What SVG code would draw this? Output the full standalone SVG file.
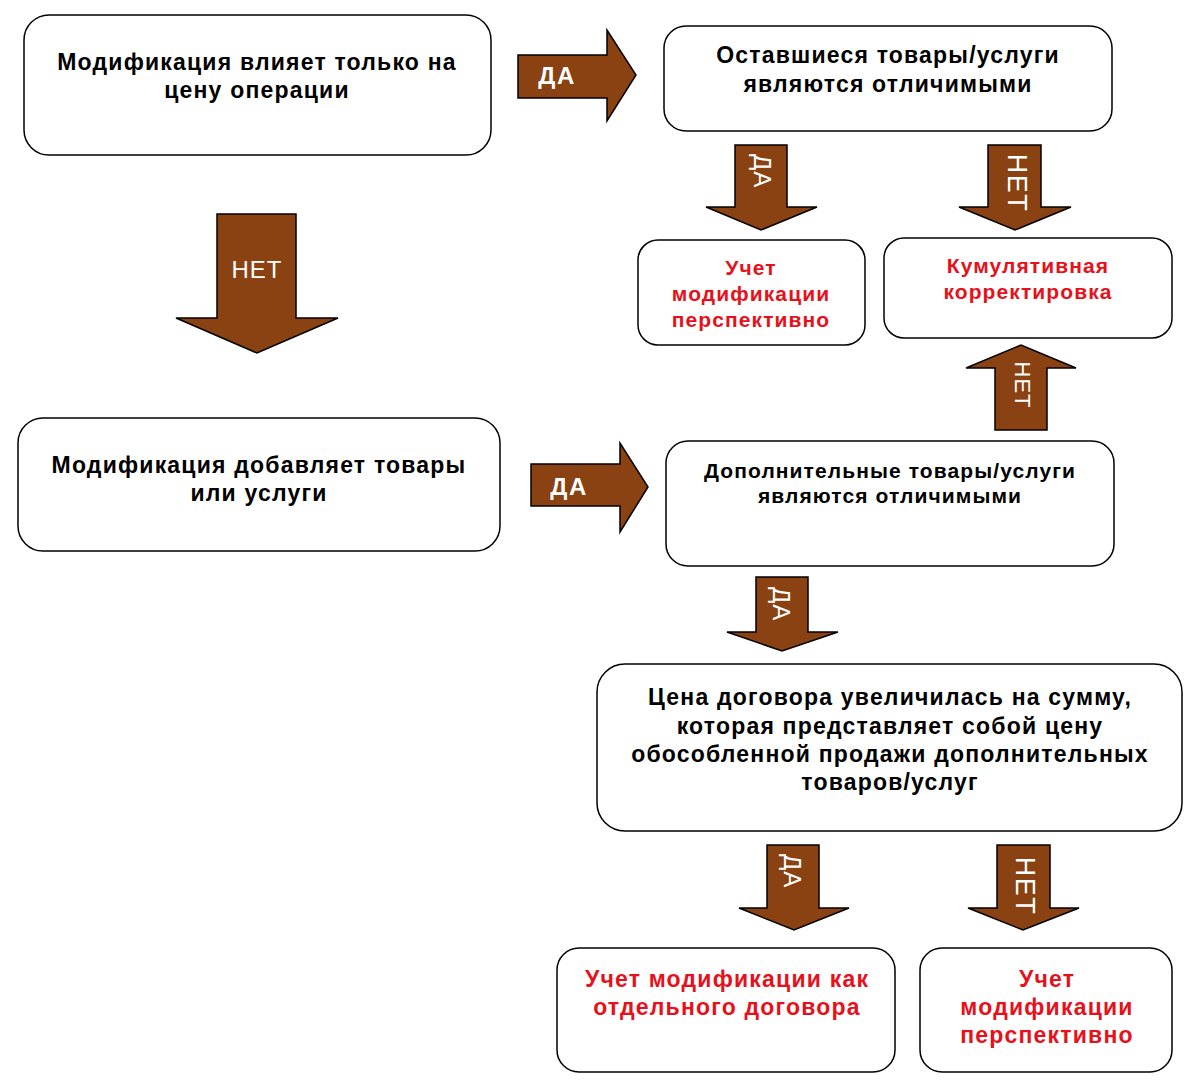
<svg xmlns="http://www.w3.org/2000/svg" width="1200" height="1092" viewBox="0 0 1200 1092">
<style>
.box{fill:#fff;stroke:#000;stroke-width:1.5}
.t{font-family:"Liberation Sans",Arial,sans-serif;font-weight:bold;font-size:23px;letter-spacing:1.2px;text-anchor:middle;fill:#000}
.s{font-size:21px;letter-spacing:1.1px}
.r{fill:#e8101a}
.arr{fill:#8a4213;stroke:#000;stroke-width:1.5}
.al{font-family:"Liberation Sans",Arial,sans-serif;font-size:24px;letter-spacing:1px;fill:#fff;text-anchor:middle;dominant-baseline:central}
.b{font-weight:bold;letter-spacing:1.5px}
.v{font-size:27px;letter-spacing:1.5px}
</style>
<rect width="1200" height="1092" fill="#fff"/>
<g id="connectors">
<polygon class="arr" points="518,55 607,55 607,30 636,75 607,121 607,98 518,98"/>
<text class="al b" x="557" y="75">ДА</text>
<polygon class="arr" points="735,145 787,145 787,207 817,207 761,230 706,207 735,207"/>
<text class="al" transform="translate(762,171) rotate(90)">ДА</text>
<polygon class="arr" points="988,145 1041,145 1041,207 1071,207 1015,230 959,207 988,207"/>
<text class="al v" transform="translate(1017,183) rotate(90)">НЕТ</text>
<polygon class="arr" points="217,214 296,214 296,318 338,318 257,353 176,318 217,318"/>
<text class="al" x="257" y="269">НЕТ</text>
<polygon class="arr" points="995,430 1047,430 1047,368 1076,368 1021,345 966,368 995,368"/>
<text class="al" style="font-size:22px" transform="translate(1022,385) rotate(90)">НЕТ</text>
<polygon class="arr" points="531,464 620,464 620,443 648,487 620,532 620,506 531,506"/>
<text class="al b" x="569" y="486">ДА</text>
<polygon class="arr" points="756,577 808,577 808,632 838,632 782,651 727,632 756,632"/>
<text class="al" transform="translate(781,604) rotate(90)">ДА</text>
<polygon class="arr" points="767,845 819,845 819,908 849,908 794,930 739,908 767,908"/>
<text class="al" transform="translate(792,871) rotate(90)">ДА</text>
<polygon class="arr" points="997,845 1050,845 1050,908 1079,908 1023,930 968,908 997,908"/>
<text class="al v" transform="translate(1025,886) rotate(90)">НЕТ</text>
</g>
<g id="n1"><rect class="box" x="24" y="15" width="467" height="140" rx="25"/>
<text class="t" x="257" y="70">Модификация влияет только на</text>
<text class="t" x="257" y="98">цену операции</text></g>
<g id="n2"><rect class="box" x="664" y="26" width="448" height="105" rx="22"/>
<text class="t" x="888" y="63">Оставшиеся товары/услуги</text>
<text class="t" x="888" y="92">являются отличимыми</text></g>
<g id="n3"><rect class="box" x="638" y="240" width="227" height="105" rx="20"/>
<text class="t s r" x="751" y="275">Учет</text>
<text class="t s r" x="751" y="301">модификации</text>
<text class="t s r" x="751" y="327">перспективно</text></g>
<g id="n4"><rect class="box" x="884" y="238" width="288" height="100" rx="20"/>
<text class="t s r" x="1028" y="273">Кумулятивная</text>
<text class="t s r" x="1028" y="299">корректировка</text></g>
<g id="n5"><rect class="box" x="18" y="418" width="482" height="133" rx="25"/>
<text class="t" x="259" y="473">Модификация добавляет товары</text>
<text class="t" x="259" y="501">или услуги</text></g>
<g id="n6"><rect class="box" x="666" y="441" width="448" height="125" rx="22"/>
<text class="t s" x="890" y="478">Дополнительные товары/услуги</text>
<text class="t s" x="890" y="503">являются отличимыми</text></g>
<g id="n7"><rect class="box" x="597" y="664" width="585" height="167" rx="28"/>
<text class="t" x="890" y="705">Цена договора увеличилась на сумму,</text>
<text class="t" x="890" y="734">которая представляет собой цену</text>
<text class="t" x="890" y="762">обособленной продажи дополнительных</text>
<text class="t" x="890" y="790">товаров/услуг</text></g>
<g id="n8"><rect class="box" x="557" y="948" width="338" height="124" rx="22"/>
<text class="t r" x="727" y="987">Учет модификации как</text>
<text class="t r" x="727" y="1015">отдельного договора</text></g>
<g id="n9"><rect class="box" x="920" y="948" width="252" height="124" rx="22"/>
<text class="t r" x="1047" y="987">Учет</text>
<text class="t r" x="1047" y="1015">модификации</text>
<text class="t r" x="1047" y="1043">перспективно</text></g>
</svg>
